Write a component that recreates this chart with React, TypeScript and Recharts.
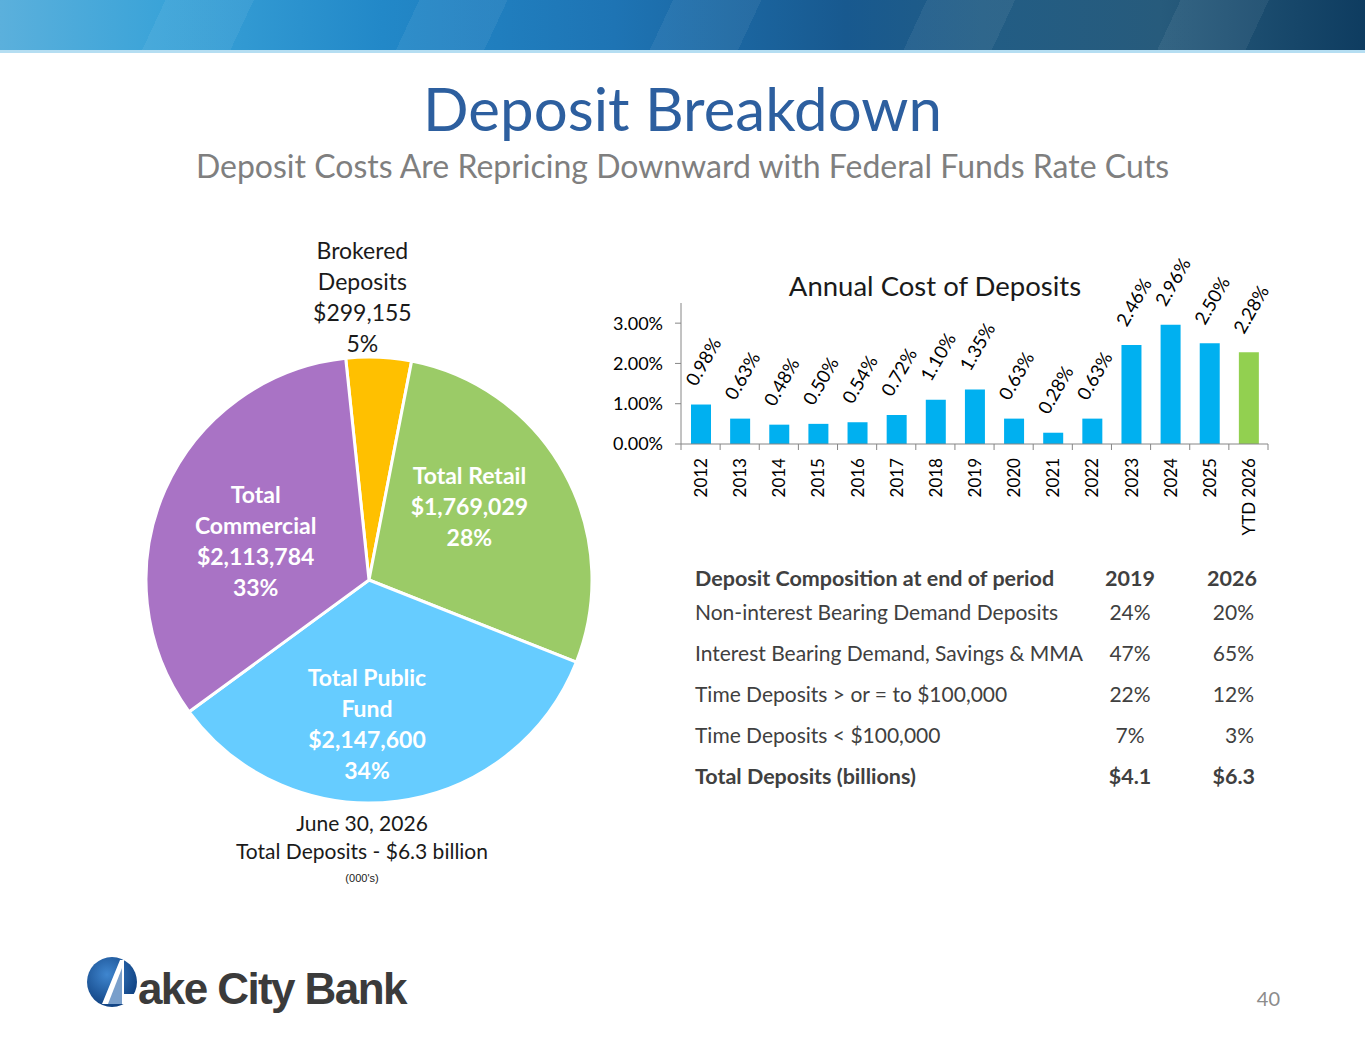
import React from "react";
import { BarChart, Bar, XAxis, YAxis, Cell, LabelList, PieChart, Pie } from "recharts";

const FONT = "Lato, 'Open Sans', sans-serif";

// annual cost of deposits (%)
const years = ["2012", "2013", "2014", "2015", "2016", "2017", "2018", "2019", "2020", "2021", "2022", "2023", "2024", "2025", "YTD 2026"];
const costPct = [0.98, 0.63, 0.48, 0.5, 0.54, 0.72, 1.1, 1.35, 0.63, 0.28, 0.63, 2.46, 2.96, 2.5, 2.28];
const yTicks = [0, 1, 2, 3];

// deposit mix, June 30 2026 (000's)
const segLines = [["Brokered", "Deposits"], ["Total Retail"], ["Total Public", "Fund"], ["Total", "Commercial"]];
const segAmounts = [299155, 1769029, 2147600, 2113784];
const segColors = ["#ffc000", "#9bcb67", "#66ccff", "#a973c5"];

// composition table
const compRows = ["Non-interest Bearing Demand Deposits", "Interest Bearing Demand, Savings & MMA", "Time Deposits > or = to $100,000", "Time Deposits < $100,000"];
const comp2019 = ["24%", "47%", "22%", "7%"];
const comp2026 = ["20%", "65%", "12%", "3%"];
const totals = ["$4.1", "$6.3"];

const barData = years.map((year, i) => ({ year, cost: costPct[i] }));
const pieData = segLines.map((l, i) => ({ name: l.join(" "), value: segAmounts[i] }));
const pieTotal = segAmounts.reduce((a, b) => a + b, 0);

const CHART_W = 700;
const Y_W = 101;
const M_RIGHT = 12;
const BAND = (CHART_W - Y_W - M_RIGHT) / years.length;

// small hand nudges so the inside labels sit where the slide has them
const LABEL_NUDGE: Record<number, [number, number]> = { 1: [-17, -10], 2: [-19, 11], 3: [9, 15] };

function XTick({ x, y, payload, index }: any) {
  return (
    <g>
      <line x1={x - BAND / 2} x2={x - BAND / 2} y1={y} y2={y + 6} stroke="#868686" />
      {index === years.length - 1 && <line x1={x + BAND / 2} x2={x + BAND / 2} y1={y} y2={y + 6} stroke="#868686" />}
      <text x={x} y={y + 14} transform={`rotate(-90 ${x} ${y + 14})`} textAnchor="end" dominantBaseline="central" fontSize={17} fill="#000" fontFamily={FONT}>
        {payload.value}
      </text>
    </g>
  );
}

function BarValue({ x, y, width, value }: any) {
  const px = x + width / 2 + 2;
  const py = y - 43;
  return (
    <text x={px} y={py} transform={`rotate(-60 ${px} ${py})`} textAnchor="middle" dominantBaseline="central" fontSize={18.5} fill="#000" fontFamily={FONT}>
      {Number(value).toFixed(2)}%
    </text>
  );
}

function PieLabel(props: any) {
  const { cx, cy, midAngle, outerRadius, index, value } = props;
  const RAD = Math.PI / 180;
  const pct = Math.round((value / pieTotal) * 100) + "%";
  const lines = [...segLines[index], "$" + Number(value).toLocaleString("en-US"), pct];
  if (index === 0) {
    const r = outerRadius + 14;
    const x = cx + r * Math.cos(-midAngle * RAD) - 17;
    const yb = cy + r * Math.sin(-midAngle * RAD);
    return (
      <text textAnchor="middle" dominantBaseline="central" fontSize={23} fill="#1a1a1a" fontFamily={FONT}>
        {lines.map((l, i) => (
          <tspan key={i} x={x} y={yb - (lines.length - 1 - i) * 31}>{l}</tspan>
        ))}
      </text>
    );
  }
  const r = outerRadius * 0.6;
  const [dx, dy] = LABEL_NUDGE[index] || [0, 0];
  const x = cx + r * Math.cos(-midAngle * RAD) + dx;
  const y = cy + r * Math.sin(-midAngle * RAD) + dy;
  return (
    <text textAnchor="middle" dominantBaseline="central" fontSize={23} fontWeight={700} fill="#fff" fontFamily={FONT}>
      {lines.map((l, i) => (
        <tspan key={i} x={x} y={y + (i - (lines.length - 1) / 2) * 31}>{l}</tspan>
      ))}
    </text>
  );
}

function Logo() {
  return (
    <svg width={360} height={70} style={{ position: "absolute", left: 80, top: 948 }}>
      <defs>
        <radialGradient id="lg" cx="40%" cy="35%" r="70%">
          <stop offset="0%" stopColor="#3f86cf" />
          <stop offset="100%" stopColor="#0d3d7c" />
        </radialGradient>
      </defs>
      <circle cx={32} cy={34} r={25} fill="url(#lg)" />
      <path d="M22 56 L40 12 L44 12 L44 46 L62 46 L60 56 Z" fill="#fff" />
      <path d="M28 56 L42 20 L42 56 Z" fill="#1f5fa8" opacity={0.6} />
      <text x={58} y={56} fontSize={44} fontWeight={700} fill="#3b3b3b" letterSpacing={-1.6} fontFamily="'Liberation Sans', Arial, sans-serif">
        ake City Bank
      </text>
    </svg>
  );
}

export default function App() {
  return (
    <div style={{ position: "absolute", left: 0, top: 0, width: 1365, height: 1047, background: "#fff", fontFamily: FONT, overflow: "hidden" }}>
      <div style={{ position: "absolute", left: 0, top: 0, width: 1365, height: 50, background: "linear-gradient(90deg, #5bb0dc 0%, #3aa3d8 12%, #2288c8 28%, #1e74b4 45%, #18598f 62%, #225d85 72%, #275b7c 85%, #0e3c60 100%)" }} />
      <div style={{ position: "absolute", left: 0, top: 0, width: 1365, height: 50, background: "repeating-linear-gradient(115deg, rgba(255,255,255,0) 0px, rgba(255,255,255,0) 150px, rgba(255,255,255,0.06) 150px, rgba(255,255,255,0.06) 230px)" }} />
      <div style={{ position: "absolute", left: 0, top: 50, width: 1365, height: 3, background: "#b5def2" }} />

      <div style={{ position: "absolute", left: 0, top: 68, width: 1365, textAlign: "center", fontSize: 60, color: "#2d5f9f", lineHeight: "80px" }}>
        Deposit Breakdown
      </div>
      <div style={{ position: "absolute", left: 0, top: 145, width: 1365, textAlign: "center", fontSize: 32, color: "#7f7f7f", lineHeight: "42px" }}>
        Deposit Costs Are Repricing Downward with Federal Funds Rate Cuts
      </div>

      <div style={{ position: "absolute", left: 114, top: 225 }}>
        <PieChart width={500} height={600}>
          <Pie data={pieData} dataKey="value" nameKey="name" cx={250} cy={350} outerRadius={223} startAngle={96} endAngle={-264} stroke="#fff" strokeWidth={3} label={PieLabel} labelLine={false} isAnimationActive={false}>
            {pieData.map((d, i) => (
              <Cell key={d.name} fill={segColors[i]} />
            ))}
          </Pie>
        </PieChart>
      </div>
      <div style={{ position: "absolute", left: 162, top: 809, width: 400, textAlign: "center", fontSize: 21, color: "#1a1a1a", lineHeight: "28px" }}>
        June 30, 2026
        <br />
        Total Deposits - $6.3 billion
      </div>
      <div style={{ position: "absolute", left: 262, top: 872, width: 200, textAlign: "center", fontSize: 11, color: "#1a1a1a", fontFamily: "'Liberation Sans', Arial, sans-serif" }}>
        (000's)
      </div>

      <div style={{ position: "absolute", left: 735, top: 267, width: 400, textAlign: "center", fontSize: 27.5, color: "#1a1a1a", lineHeight: "38px" }}>
        Annual Cost of Deposits
      </div>
      <div style={{ position: "absolute", left: 580, top: 250 }}>
        <BarChart width={CHART_W} height={300} data={barData} margin={{ top: 53, right: M_RIGHT, left: 0, bottom: 6 }}>
          <YAxis width={Y_W} domain={[0, 3.5]} ticks={yTicks} tickFormatter={(v: number) => v.toFixed(2) + "%"} axisLine={{ stroke: "#868686" }} tickLine={{ stroke: "#868686" }} tickSize={6} tickMargin={12} tick={{ fontSize: 18, fill: "#000", fontFamily: FONT }} />
          <XAxis dataKey="year" interval={0} height={100} axisLine={{ stroke: "#868686" }} tickLine={false} tickSize={0} tickMargin={0} tick={<XTick />} />
          <Bar dataKey="cost" barSize={20} isAnimationActive={false}>
            {barData.map((d, i) => (
              <Cell key={d.year} fill={i === barData.length - 1 ? "#92d050" : "#00b0f0"} />
            ))}
            <LabelList dataKey="cost" content={<BarValue />} />
          </Bar>
        </BarChart>
      </div>

      <div style={{ position: "absolute", left: 695, top: 564, fontSize: 21, color: "#404040" }}>
        <div style={{ position: "absolute", left: 0, top: 0, width: 600, height: 28, fontWeight: 700, fontSize: 21.5, lineHeight: "28px", whiteSpace: "nowrap" }}>
          Deposit Composition at end of period
          <span style={{ position: "absolute", left: 405, width: 60, textAlign: "center" }}>2019</span>
          <span style={{ position: "absolute", left: 462, width: 100, textAlign: "right" }}>2026</span>
        </div>
        {compRows.map((label, i) => (
          <div key={label} style={{ position: "absolute", left: 0, top: 34 + i * 41, width: 600, height: 28, lineHeight: "28px", whiteSpace: "nowrap" }}>
            {label}
            <span style={{ position: "absolute", left: 405, width: 60, textAlign: "center" }}>{comp2019[i]}</span>
            <span style={{ position: "absolute", left: 459, width: 100, textAlign: "right" }}>{comp2026[i]}</span>
          </div>
        ))}
        <div style={{ position: "absolute", left: 0, top: 198, width: 600, height: 28, fontWeight: 700, fontSize: 21.5, lineHeight: "28px", whiteSpace: "nowrap" }}>
          Total Deposits (billions)
          <span style={{ position: "absolute", left: 405, width: 60, textAlign: "center" }}>{totals[0]}</span>
          <span style={{ position: "absolute", left: 460, width: 100, textAlign: "right" }}>{totals[1]}</span>
        </div>
      </div>

      <Logo />
      <div style={{ position: "absolute", left: 1240, top: 986, width: 40, textAlign: "right", fontSize: 20, color: "#8c8c8c" }}>40</div>
    </div>
  );
}
